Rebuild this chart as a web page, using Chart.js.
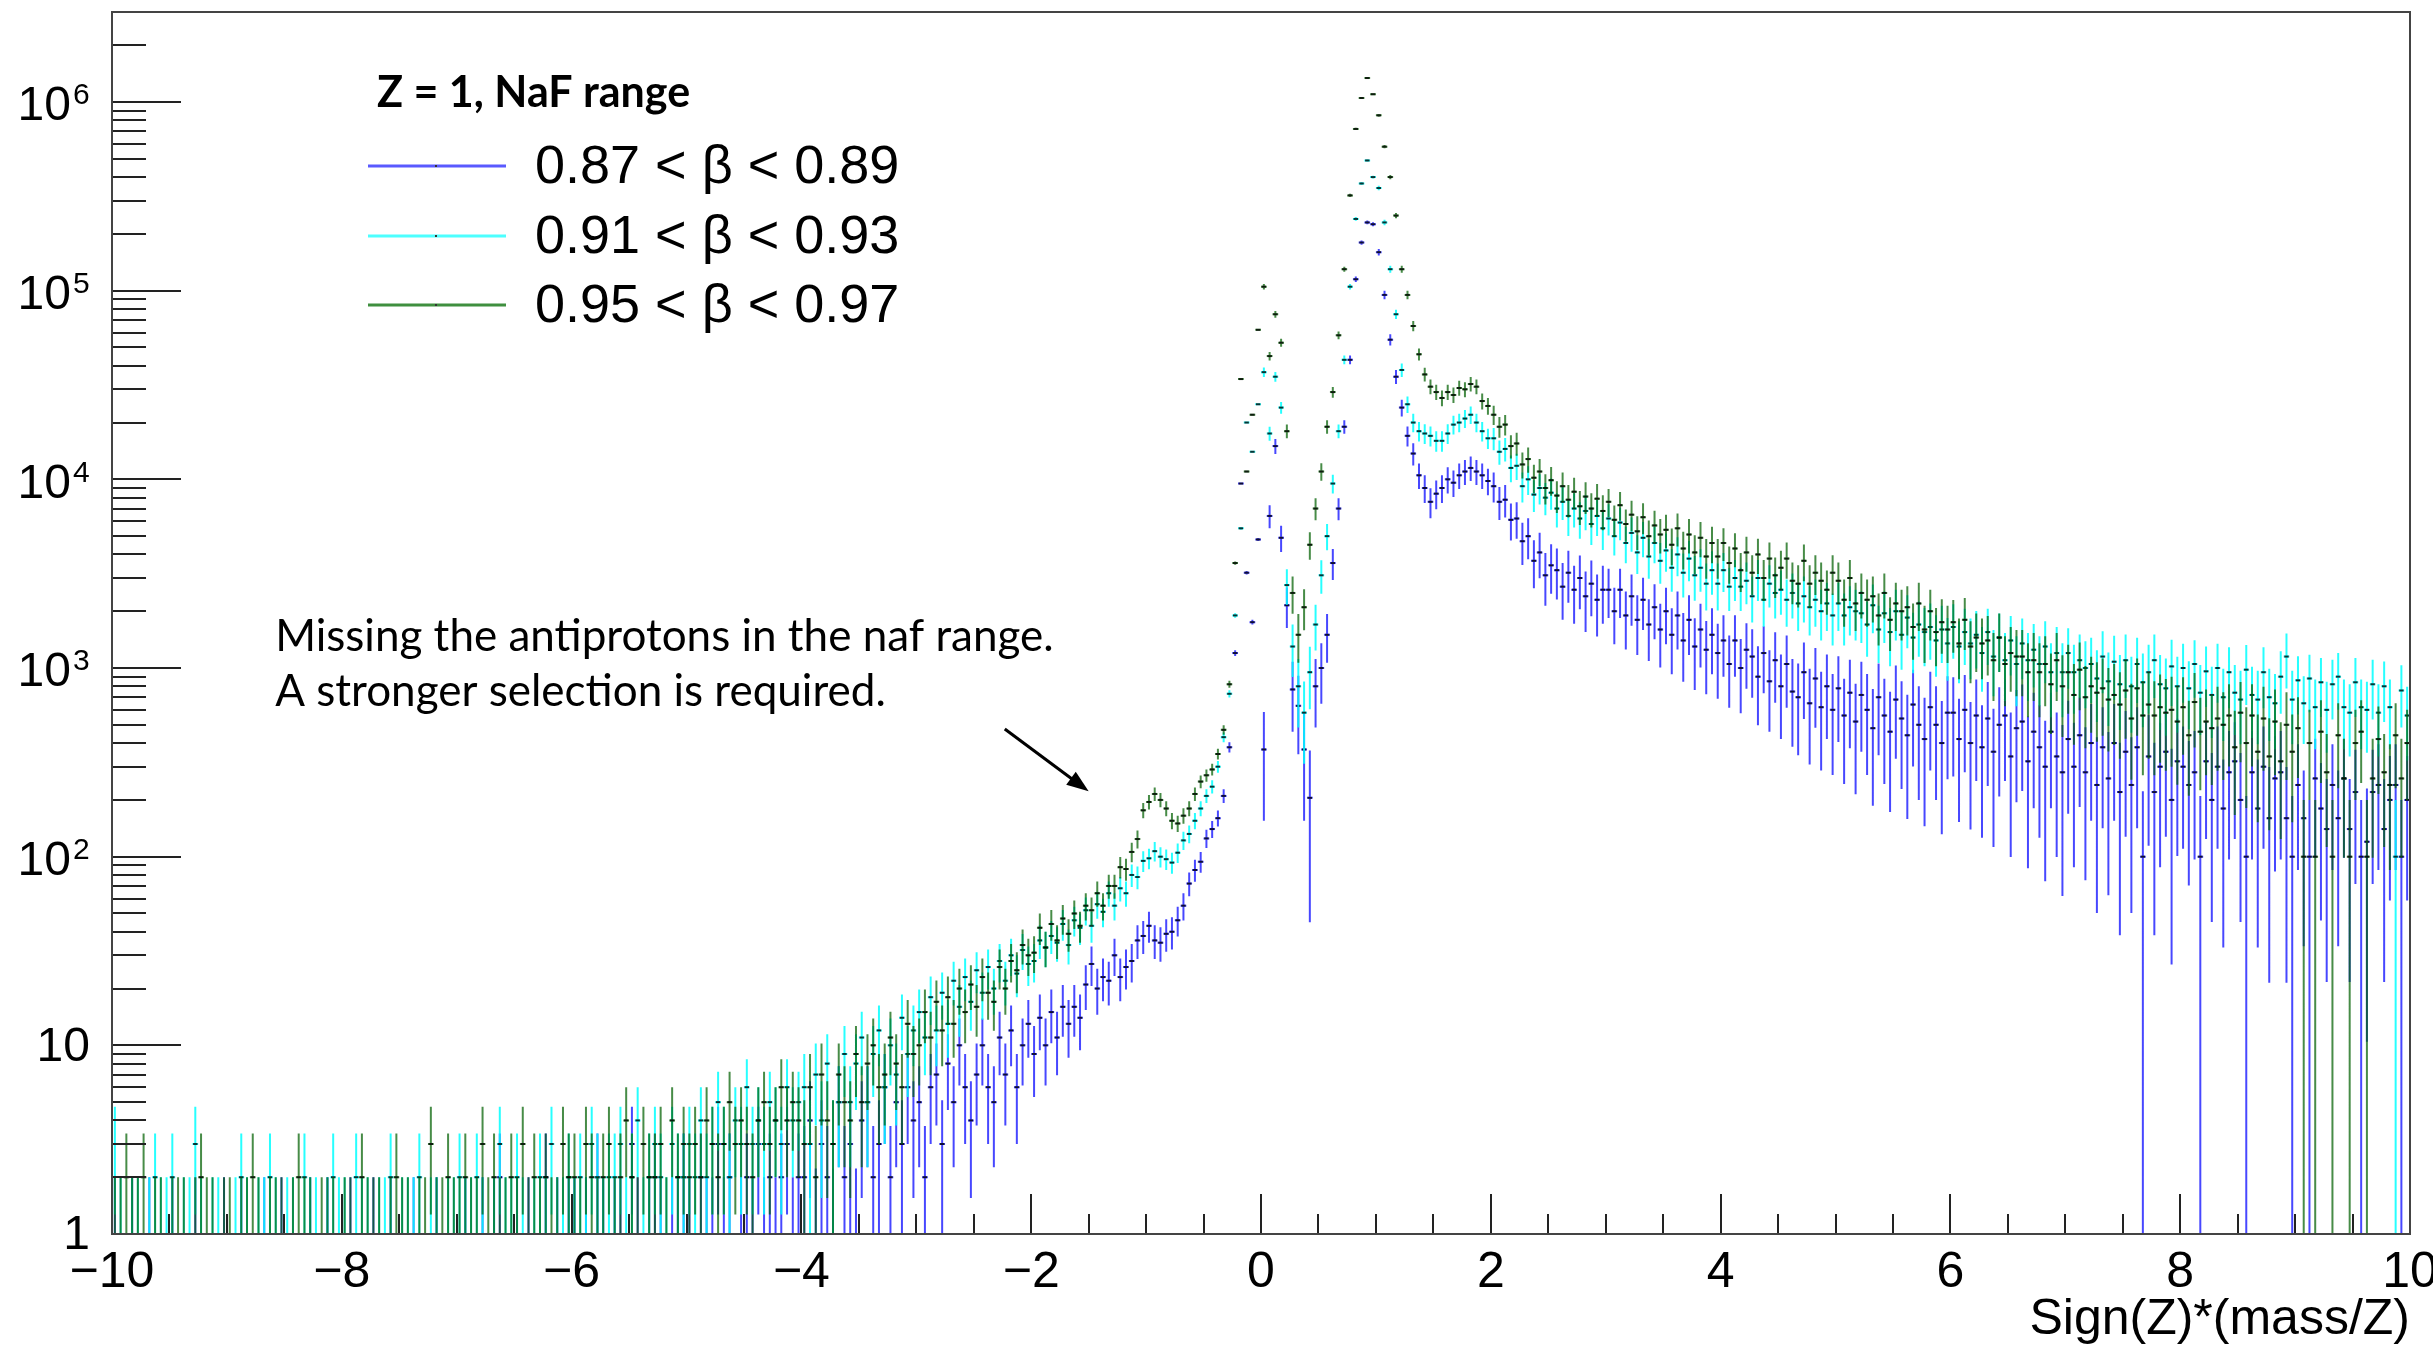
<!DOCTYPE html>
<html>
<head>
<meta charset="utf-8">
<title>Z = 1, NaF range</title>
<script src="https://cdn.jsdelivr.net/npm/chart.js@4.4.1/dist/chart.umd.min.js"></script>
<style>
  html, body { margin: 0; padding: 0; background: #fff; }
  canvas { display: block; }
</style>
</head>
<body>
<canvas id="massChart" width="2433" height="1355"></canvas>
<script>
// histogram binning: 400 bins of 0.05 between -10 and 10
const xMin = -10, xMax = 10, binWidth = 0.05;

// counts, one row per unit of Sign(Z)*(mass/Z)
const blueCounts = [
  1,0,0,1,0,0,1,0,0,0,1,0,0,0,1,0,0,0,0,1,
  0,0,1,0,0,0,1,0,0,1,0,0,0,0,1,0,0,1,0,0,
  0,1,0,0,0,1,0,0,1,0,0,0,1,0,0,0,1,0,0,0,
  0,1,0,0,1,0,1,2,0,0,1,0,1,0,0,2,0,1,0,1,
  1,0,1,0,2,1,0,1,1,0,3,1,0,1,2,1,0,1,1,2,
  1,0,2,1,1,3,1,2,0,1,2,1,3,1,2,1,2,3,1,2,
  2,4,1,3,2,1,5,2,3,1,4,5,2,3,6,2,5,3,6,4,
  5,2,6,7,3,8,5,10,6,4,7,10,6,5,11,7,12,6,10,13,
  9,14,10,15,11,16,13,16,14,21,27,20,23,22,30,23,26,28,36,38,
  43,36,35,39,40,46,55,72,85,94,125,140,160,210,380,1200,9500,3200,1750,4800,
  370,6400,15000,4900,2150,770,630,370,205,800,1000,1500,3600,7000,19000,43000,115000,180000,230000,225000,
  160000,95000,55000,35000,24000,17000,13700,10500,9000,7600,8400,9000,10000,9600,10500,11000,11500,11000,10500,9800,
  9200,7600,7800,6100,6200,4700,5000,3700,4100,3100,3500,3300,2700,3200,2600,3000,2400,2800,2300,2600,
  2600,2000,2600,1900,2400,1800,2300,1700,2100,1600,2000,1500,1900,1400,1800,1300,1600,1250,1500,1200,
  1400,1050,1400,1000,1250,1150,900,1200,850,1100,800,1050,750,700,950,650,880,620,800,600,
  780,560,740,520,720,600,480,700,560,460,680,540,440,640,500,420,620,500,400,580,
  580,420,600,400,560,380,540,360,500,560,340,480,520,320,460,380,300,460,340,280,
  420,300,440,280,400,240,380,260,400,220,360,240,380,100,340,220,300,360,200,320,
  300,240,280,100,320,200,300,180,280,320,200,100,280,180,300,160,260,280,160,100,
  240,160,100,260,180,140,240,160,260,140,220,100,120,220,240,140,200,240,100,200
];

const cyanCounts = [
  3,1,0,1,1,0,1,2,1,1,2,0,1,1,3,1,0,1,1,0,
  0,1,2,1,0,1,1,2,1,0,1,1,0,2,1,1,0,1,2,1,
  1,0,2,1,1,0,1,1,2,0,1,1,1,2,0,1,1,0,1,1,
  2,1,1,2,1,0,1,3,1,1,2,1,0,1,2,1,3,1,1,2,
  1,2,1,3,2,1,2,2,3,1,2,4,1,2,3,2,1,3,2,2,
  3,2,4,2,3,5,3,2,4,3,6,3,4,3,5,4,3,6,4,5,
  6,3,7,4,8,3,5,9,5,8,11,5,9,12,6,10,7,14,9,12,
  15,11,18,12,19,13,22,16,23,17,25,19,26,20,28,22,30,24,32,27,
  28,36,33,38,35,44,34,46,42,52,43,56,51,64,55,68,64,80,78,95,
  98,107,100,97,93,105,122,132,155,180,210,235,300,430,730,1900,5500,20000,14000,25000,
  37000,17500,35000,24000,2750,1300,800,580,950,1700,3100,5000,9500,18000,43000,105000,240000,370000,490000,400000,
  350000,230000,130000,75000,38000,25000,20000,18000,17500,17000,16000,16000,17500,19500,20000,21000,22000,20000,18000,16500,
  16500,14000,14500,11500,11800,9200,10000,8300,9000,8000,8500,7000,7600,6400,7000,6200,6800,5800,6400,5500,
  6200,5000,5900,4600,5200,4100,4900,3900,4600,3700,4200,3400,4000,3200,3800,3100,3400,2800,3300,2800,
  3300,2700,3000,2700,2900,2400,3000,2300,2800,2500,2600,2300,2500,2200,2400,2100,2300,2000,2200,1900,
  2200,1900,2100,2000,1950,1700,2150,1600,1950,1550,2000,1500,1850,1450,1700,1550,1650,1400,1600,1350,
  1650,1300,1550,1350,1500,1200,1550,1150,1450,1100,1400,1050,1350,1100,1250,1050,1300,950,1200,950,
  1200,950,1100,1000,1050,880,1150,850,1080,820,1100,800,1050,840,950,1100,820,780,1020,800,
  1000,780,1050,740,960,720,1000,700,950,740,680,980,720,680,950,700,650,900,1150,680,
  860,650,880,620,840,600,820,900,620,580,840,620,600,820,580,800,620,100,760,560
];

const greenCounts = [
  1,1,2,1,1,2,0,1,1,0,1,1,1,0,1,2,1,1,0,1,
  1,0,1,1,2,1,0,1,1,1,0,1,2,1,1,0,1,1,1,0,
  1,1,0,2,1,1,1,0,1,2,1,1,0,1,1,3,1,1,2,1,
  1,2,1,1,3,1,2,1,1,2,1,3,1,2,1,2,1,1,3,2,
  2,1,3,2,1,2,3,1,2,4,2,1,3,2,2,3,1,4,2,3,
  2,3,2,4,3,2,3,5,3,4,3,2,4,5,3,4,6,4,5,4,
  3,6,2,7,4,3,7,5,4,9,5,8,10,6,7,11,8,6,13,9,
  10,15,11,17,12,18,13,20,15,21,16,23,19,17,26,20,28,25,34,30,
  31,42,33,44,36,47,39,50,43,55,52,64,55,70,70,88,86,106,124,176,
  195,215,200,180,155,150,165,180,215,250,270,290,350,470,820,3600,34000,11000,22000,62000,
  105000,45000,75000,53000,18000,2500,1500,2100,4500,7000,11000,19000,29000,58000,130000,320000,720000,1050000,1340000,1100000,
  850000,580000,400000,250000,130000,95000,65000,46000,36000,31000,29000,27000,29000,28000,30500,30000,32000,31000,26000,24500,
  22000,19000,19500,15000,15500,12000,12800,10200,11000,9000,9900,8200,9200,7800,8600,7200,8100,7000,7900,6800,
  7600,6100,7300,5800,6500,5300,6300,5000,5700,5100,5400,4500,5500,4300,5100,4100,4900,3900,4600,3900,
  4600,3600,4300,3300,4100,3200,4000,3000,3800,3100,3400,3800,2900,2800,3700,2800,3200,2900,2600,3200,
  2900,2300,3000,2200,2500,2300,2400,1900,2500,1800,2200,2000,2100,1650,2200,1600,2000,1550,1750,1600,
  1750,1350,1800,1300,1450,1350,1400,1100,1450,1050,1200,1150,1150,950,1100,950,1050,820,1100,800,
  950,720,980,700,800,740,780,680,720,640,760,540,780,560,640,560,620,580,600,520,
  620,440,660,460,520,480,540,500,560,380,580,400,560,360,540,340,520,320,500,360,
  480,100,400,100,460,280,100,440,260,100,400,460,100,260,420,280,240,440,260,400
];

// event weight per unit of x
const binWeight = [1,1,1,1,1,1,1.5,1.5,1.5,1.5, 125,250,300,220,180,180,170,150,120,100];

const seriesLabels = ['0.87 < \u03b2 < 0.89', '0.91 < \u03b2 < 0.93', '0.95 < \u03b2 < 0.97'];
const seriesColors = ['rgba(0,0,255,0.72)', 'rgba(0,255,255,0.85)', 'rgba(0,95,0,0.72)'];
const legendColors = ['#5a5aff', '#4dffff', '#3f8f3f'];

const xTickLabels = ['\u221210', '\u22128', '\u22126', '\u22124', '\u22122', '0', '2', '4', '6', '8', '10'];
const yDecades = [0, 1, 2, 3, 4, 5, 6];

function toPoints(counts) {
  const pts = [];
  counts.forEach((v, i) => {
    if (v > 0) pts.push({ x: xMin + binWidth * (i + 0.5), y: v });
  });
  return pts;
}

const allCounts = [blueCounts, cyanCounts, greenCounts];

// ROOT style error bars: vertical error plus a bin-width line
const errorBars = {
  id: 'errorBars',
  beforeDatasetDraw(chart, args) {
    const ds = chart.data.datasets[args.index];
    const xs = chart.scales.x, ys = chart.scales.y, area = chart.chartArea;
    const c = chart.ctx;
    c.save();
    c.beginPath();
    c.rect(area.left, area.top, area.right - area.left, area.bottom - area.top);
    c.clip();
    c.strokeStyle = ds.barColor;
    c.lineWidth = 2;
    c.beginPath();
    ds.data.forEach(p => {
      const w = binWeight[Math.min(19, Math.floor(p.x - xMin))];
      const err = Math.sqrt(w * p.y);
      const px = xs.getPixelForValue(p.x);
      const py = ys.getPixelForValue(p.y);
      const top = ys.getPixelForValue(p.y + err);
      const bot = (p.y - err) > 0.3 ? ys.getPixelForValue(p.y - err) : area.bottom + 4;
      c.moveTo(px, top);
      c.lineTo(px, bot);
      c.moveTo(xs.getPixelForValue(p.x - binWidth / 2), py);
      c.lineTo(xs.getPixelForValue(p.x + binWidth / 2), py);
    });
    c.stroke();
    c.restore();
  }
};

// frame, ticks, labels, legend and the note, drawn the ROOT way
const rootFrame = {
  id: 'rootFrame',
  afterDraw(chart) {
    const c = chart.ctx, xs = chart.scales.x, ys = chart.scales.y, a = chart.chartArea;
    c.save();
    c.strokeStyle = '#222';
    c.lineWidth = 2;

    // x ticks: minor every 0.5, major every 2
    c.beginPath();
    for (let k = 0; k <= 40; k++) {
      const v = xMin + k * 0.5;
      const px = Math.round(xs.getPixelForValue(v));
      const len = (k % 4 === 0) ? 40 : 20;
      c.moveTo(px, a.bottom);
      c.lineTo(px, a.bottom - len);
    }
    // y ticks: decades long, 2..9 short
    yDecades.forEach(n => {
      for (let m = 1; m <= 9; m++) {
        const v = m * Math.pow(10, n);
        if (v > ys.max) break;
        const py = Math.round(ys.getPixelForValue(v));
        c.moveTo(a.left, py);
        c.lineTo(a.left + (m === 1 ? 69 : 34), py);
      }
    });
    c.stroke();

    // frame
    c.strokeStyle = '#444';
    c.strokeRect(a.left, a.top, a.right - a.left, a.bottom - a.top);

    // x labels
    c.fillStyle = '#000';
    c.font = '50px "Liberation Sans", Arial, sans-serif';
    c.textAlign = 'center';
    c.textBaseline = 'alphabetic';
    xTickLabels.forEach((t, k) => {
      c.fillText(t, xs.getPixelForValue(xMin + 2 * k), a.bottom + 53);
    });
    c.textAlign = 'right';
    c.fillText('Sign(Z)*(mass/Z)', a.right, a.bottom + 100);

    // y labels with exponents
    yDecades.forEach(n => {
      const py = ys.getPixelForValue(Math.pow(10, n));
      c.textBaseline = 'middle';
      c.textAlign = 'right';
      c.font = '48px "Liberation Sans", Arial, sans-serif';
      if (n === 0) {
        c.fillText('1', 90, py + 2);
      } else if (n === 1) {
        c.fillText('10', 90, py + 2);
      } else {
        c.fillText('10', 71, py + 5);
        c.textAlign = 'left';
        c.font = '30px "Liberation Sans", Arial, sans-serif';
        c.fillText(String(n), 73, py - 6);
      }
    });

    // legend
    c.textAlign = 'left';
    c.textBaseline = 'alphabetic';
    c.font = 'bold 43px Lato, "Open Sans", sans-serif';
    c.fillText('Z = 1, NaF range', 377, 107);
    c.font = '54px "Liberation Sans", Arial, sans-serif';
    const rows = [166, 236, 305];
    seriesLabels.forEach((t, k) => {
      c.strokeStyle = legendColors[k];
      c.lineWidth = 3;
      c.beginPath();
      c.moveTo(368, rows[k]);
      c.lineTo(506, rows[k]);
      c.stroke();
      c.fillStyle = '#333';
      c.fillRect(435, rows[k] - 1, 2, 2);
      c.fillStyle = '#000';
      c.fillText(t, 535, rows[k] + 17);
    });

    // note and arrow, placed in data coordinates
    c.font = '44px Lato, "Open Sans", sans-serif';
    c.fillText('Missing the antiprotons in the naf range.', xs.getPixelForValue(-8.58), ys.getPixelForValue(1230));
    c.fillText('A stronger selection is required.', xs.getPixelForValue(-8.58), ys.getPixelForValue(629));
    const x0 = xs.getPixelForValue(-2.23), y0 = ys.getPixelForValue(475);
    const x1 = xs.getPixelForValue(-1.5), y1 = ys.getPixelForValue(222);
    const ang = Math.atan2(y1 - y0, x1 - x0);
    c.strokeStyle = '#000';
    c.lineWidth = 3;
    c.beginPath();
    c.moveTo(x0, y0);
    c.lineTo(x1 - 14 * Math.cos(ang), y1 - 14 * Math.sin(ang));
    c.stroke();
    c.beginPath();
    c.moveTo(x1, y1);
    c.lineTo(x1 - 22 * Math.cos(ang) + 8 * Math.sin(ang), y1 - 22 * Math.sin(ang) - 8 * Math.cos(ang));
    c.lineTo(x1 - 22 * Math.cos(ang) - 8 * Math.sin(ang), y1 - 22 * Math.sin(ang) + 8 * Math.cos(ang));
    c.closePath();
    c.fillStyle = '#000';
    c.fill();
    c.restore();
  }
};

const ctx = document.getElementById('massChart').getContext('2d');
const massChart = new Chart(ctx, {
  type: 'scatter',
  data: {
    datasets: allCounts.map((counts, k) => ({
      label: seriesLabels[k],
      data: toPoints(counts),
      barColor: seriesColors[k],
      order: 3 - k,
      pointStyle: 'line',
      pointRadius: 2.2,
      pointBorderWidth: 2,
      pointBorderColor: 'rgba(0,0,0,0.8)',
      pointBackgroundColor: 'rgba(0,0,0,0.8)',
      showLine: false
    }))
  },
  options: {
    responsive: false,
    animation: false,
    devicePixelRatio: 1,
    layout: { padding: { left: 112, right: 23, top: 12, bottom: 121 } },
    scales: {
      x: { type: 'linear', min: xMin, max: xMax, display: false },
      y: { type: 'logarithmic', min: 1, max: 3e6, display: false }
    },
    plugins: {
      legend: { display: false },
      tooltip: { enabled: false }
    },
    events: []
  },
  plugins: [errorBars, rootFrame]
});
</script>
</body>
</html>
